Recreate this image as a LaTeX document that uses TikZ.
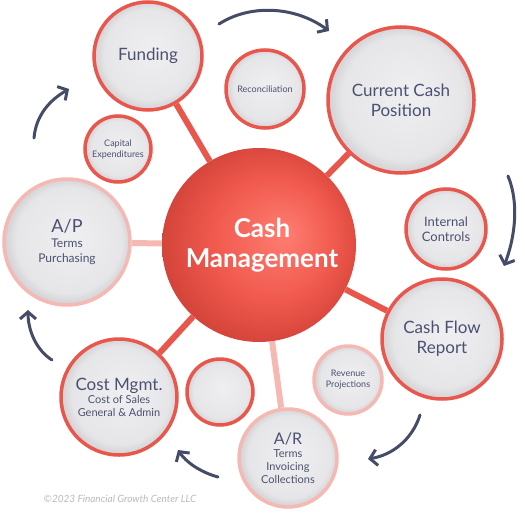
\documentclass[tikz,border=0pt]{standalone}
\usepackage{fontspec}
\setmainfont{Lato}
\usepackage{tikz}
\usetikzlibrary{arrows.meta, backgrounds}

\definecolor{ringred}{HTML}{E9564C}
\definecolor{ringpink}{HTML}{F5B8B2}
\definecolor{textnavy}{HTML}{4B5170}
\definecolor{arrownavy}{HTML}{454C67}
\definecolor{bubblelight}{HTML}{EFEFF1}
\definecolor{bubblemid}{HTML}{E6E6E8}
\definecolor{bubbledark}{HTML}{C4C4C9}
\definecolor{hublight}{HTML}{FF7D72}
\definecolor{hubmid}{HTML}{F0594D}
\definecolor{hubdark}{HTML}{C0352C}

% off-centre glow for the 3D look
\pgfdeclareradialshading{bubbleglow}{\pgfpoint{3bp}{3bp}}{color(0bp)=(bubblelight); color(21bp)=(bubblemid); color(28bp)=(bubbledark)}
\pgfdeclareradialshading{hubglow}{\pgfpoint{7bp}{3bp}}{color(0bp)=(hublight); color(16bp)=(hubmid); color(34bp)=(hubdark)}

\begin{document}
\begin{tikzpicture}[
    x=1pt, y=-1pt,
    bubble/.style={circle, draw=ringred, line width=3.5pt, shading=bubbleglow, text=textnavy, align=center, inner sep=0pt},
    softbubble/.style={bubble, draw=ringpink},
    hub/.style={circle, shading=hubglow, text=white, align=center, inner sep=0pt, font=\fontsize{26}{30}\selectfont\bfseries},
    big/.style={font=\fontsize{17}{20}\selectfont},
    mid/.style={font=\fontsize{13}{15}\selectfont},
    small/.style={font=\fontsize{9}{11}\selectfont},
    stem/.style={line width=6pt, ringred},
    softstem/.style={line width=6pt, ringpink},
    turnarrow/.style={-{Straight Barb[length=7pt, width=16pt]}, line width=3pt, arrownavy, line cap=round}
]
\useasboundingbox (0,0) rectangle (524,532);

% Hub
\node[hub, minimum size=194pt] (cash) at (259,245) {\hspace*{6pt}Cash\\\hspace*{6pt}Management};

% Outer ring of bubbles
\node[bubble, big, minimum size=108pt] (fund) at (148,56) {Funding};
\node[bubble, small, minimum size=78pt] (recon) at (265,89) {Reconciliation};
\node[bubble, big, minimum size=146pt] (ccp) at (401,100) {Current Cash\\Position};
\node[bubble, mid, minimum size=80pt] (intc) at (446,229) {Internal\\Controls};
\node[bubble, big, minimum size=120pt] (cfr) at (442,339) {Cash Flow\\Report};
\node[softbubble, small, minimum size=68pt] (rev) at (348,380) {Revenue\\Projections};
\node[softbubble, minimum size=98pt, font=\fontsize{11}{13}\selectfont] (ar) at (288,458) {{\fontsize{16}{18}\selectfont A/R}\\Terms\\Invoicing\\Collections};
\node[bubble, minimum size=66pt] (blank) at (220,392) {};
\node[bubble, minimum size=116pt, font=\fontsize{11}{13}\selectfont] (cost) at (119,397) {{\fontsize{17}{20}\selectfont Cost Mgmt.}\\Cost of Sales\\General \& Admin};
\node[softbubble, minimum size=126pt, font=\fontsize{12}{15}\selectfont] (ap) at (67,242) {{\fontsize{18}{21}\selectfont A/P}\\Terms\\Purchasing};
\node[bubble, small, minimum size=66pt] (capex) at (118,149) {Capital\\Expenditures};

% Stems
\begin{scope}[on background layer]
\draw[stem] (cash) -- (fund);
\draw[stem] (cash) -- (ccp);
\draw[stem] (cash) -- (cfr);
\draw[softstem] (cash) -- (ar);
\draw[stem] (cash) -- (cost);
\draw[softstem] (cash) -- (ap);
\end{scope}

% Cycle arrows
\coordinate (t1) at (219,24);  \coordinate (h1) at (329,31);
\coordinate (t2) at (508,176); \coordinate (h2) at (504,266);
\coordinate (t3) at (420,415); \coordinate (h3) at (368,459);
\coordinate (t4) at (218,477); \coordinate (h4) at (178,450);
\coordinate (t5) at (52,360);  \coordinate (h5) at (28,310);
\coordinate (t6) at (34,138);  \coordinate (h6) at (69,89);
\draw[turnarrow] (t1) .. controls (250,4) and (295,6) .. (h1);
\draw[turnarrow] (t2) .. controls (520,205) and (514,240) .. (h2);
\draw[turnarrow] (t3) .. controls (412,440) and (392,455) .. (h3);
\draw[turnarrow] (t4) .. controls (200,472) and (186,462) .. (h4);
\draw[turnarrow] (t5) .. controls (36,350) and (28,330) .. (h5);
\draw[turnarrow] (t6) .. controls (36,115) and (50,100) .. (h6);

% Footer
\node[font=\fontsize{10}{12}\selectfont\itshape, text=gray!55] (copy) at (120,499) {©2023 Financial Growth Center LLC};
\end{tikzpicture}
\end{document}
